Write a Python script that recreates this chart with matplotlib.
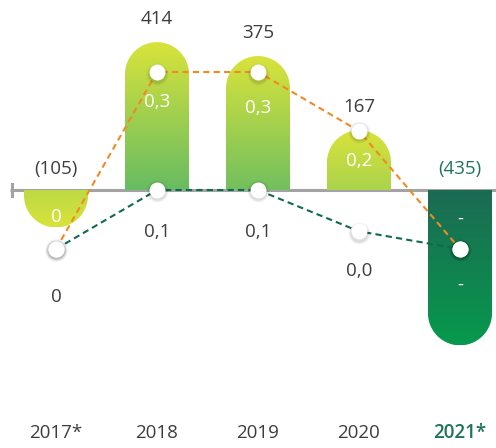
import numpy as np
import matplotlib
matplotlib.use("Agg")
import matplotlib.pyplot as plt
from matplotlib.path import Path
from matplotlib.patches import PathPatch
from matplotlib.colors import to_rgb

plt.rcParams['font.family'] = ['Open Sans', 'DejaVu Sans']

# ---------------- data ----------------
years = ["2017*", "2018", "2019", "2020", "2021*"]
bar_values = [-105, 414, 375, 167, -435]
bar_labels = ["(105)", "414", "375", "167", "(435)"]
orange_values = [0.0, 0.3, 0.3, 0.2, 0.0]
orange_labels = ["0", "0,3", "0,3", "0,2", "-"]
green_values = [0.0, 0.1, 0.1, 0.03, 0.0]
green_labels = ["0", "0,1", "0,1", "0,0", "-"]

# ---------------- layout ----------------
W, H = 496, 448
fig = plt.figure(figsize=(W / 100, H / 100), dpi=100)
ax = fig.add_axes([0, 0, 1, 1])
ax.axis('off')

x0_px, step_px = 56, 101
ax.set_xlim(-x0_px / step_px, (W - x0_px) / step_px)
base_px = 190
k = 2.8  # units per pixel
ax.set_ylim(-(H - base_px) * k, base_px * k)

text_dark = "#3d3d3d"
green_text = "#1e7657"
yellow = np.array(to_rgb("#d9e33b"))
lgreen = np.array(to_rgb("#68bc62"))
dgreen_top = np.array(to_rgb("#1c6a53"))
dgreen_bot = np.array(to_rgb("#07994d"))
FS = 13.5

half_w = 32 / step_px
r_y = 32 * k

xs = np.arange(len(years))

# axis line
ax.plot([-46 / step_px, (W - x0_px) / step_px], [0, 0], color="#a3a3a3", lw=2.2,
        zorder=1, solid_capstyle='butt')
ax.plot([-44 / step_px, -44 / step_px], [-6 * k, 6 * k], color="#a3a3a3", lw=2.2, zorder=1)


def bar_path(xc, v):
    s = 1 if v >= 0 else -1
    theta = np.linspace(np.pi, 0, 60)
    cy = v - s * r_y
    arc = np.column_stack([xc + half_w * np.cos(theta), cy + s * r_y * np.sin(theta)])
    verts = np.vstack([[xc - half_w, 0], [xc - half_w, cy], arc, [xc + half_w, cy],
                       [xc + half_w, 0], [xc - half_w, 0]])
    codes = [Path.MOVETO] + [Path.LINETO] * (len(verts) - 2) + [Path.CLOSEPOLY]
    return Path(verts, codes)


for i, v in enumerate(bar_values):
    xc = xs[i]
    last = i == len(bar_values) - 1
    patch = PathPatch(bar_path(xc, v), facecolor='none', edgecolor='none', zorder=2)
    ax.add_patch(patch)
    n = 200
    ys = np.linspace(min(0, v), max(0, v), n)
    if last:
        t = np.abs(ys) / abs(v)
        cols = dgreen_top[None, :] * (1 - t[:, None]) + dgreen_bot[None, :] * t[:, None]
    else:
        dist_px = np.abs(v - ys) / k
        t = np.clip(dist_px / 147, 0, 1)
        cols = yellow[None, :] * (1 - t[:, None]) + lgreen[None, :] * t[:, None]
    img = ax.imshow(cols[:, None, :], extent=[xc - half_w, xc + half_w, min(0, v), max(0, v)],
                    origin='lower', aspect='auto', zorder=2, interpolation='bilinear')
    img.set_clip_path(patch)

    col = green_text if last else text_dark
    ty = v + 23 * k if v >= 0 else 21 * k
    ax.text(xc, ty, bar_labels[i], ha='center', va='center', fontsize=FS, color=col,
            fontweight='medium' if last else 'normal', zorder=5)
    ax.text(xc, -(433 - base_px) * k, years[i], ha='center', va='center', fontsize=FS,
            color=col, fontweight='semibold' if last else 'normal', zorder=5)

ax.set_xlim(-x0_px / step_px, (W - x0_px) / step_px)
ax.set_ylim(-(H - base_px) * k, base_px * k)

# ---------------- secondary axis for ratios ----------------
ax2 = ax.twinx()
ax2.axis('off')
zero_px = 249
pxu = 590
ax2.set_ylim(-(H - zero_px) / pxu, zero_px / pxu)
ax2.set_xlim(ax.get_xlim())

ax2.plot(xs, orange_values, color="#f08a24", lw=1.5, dashes=(3, 2), zorder=3)
ax2.plot(xs, green_values, color="#0f6b4b", lw=1.5, dashes=(3, 2), zorder=3)

allv = orange_values + green_values
allx = list(xs) + list(xs)
for s, a in [(16, 0.03), (14.5, 0.05), (13, 0.06)]:
    ax2.scatter(allx, np.array(allv) - 1.5 / pxu, s=s ** 2, color="black", alpha=a,
                linewidths=0, zorder=4)
ax2.scatter(allx, allv, s=11.5 ** 2, color="white", linewidths=0, zorder=5)

pt = 0.72
orange_off = [-32, 30, 36, 30, -30]
green_off = [48, 42, 42, 40, 36]
for i in range(len(years)):
    ax2.annotate(orange_labels[i], (xs[i], orange_values[i]), xytext=(0, -orange_off[i] * pt),
                 textcoords='offset points', ha='center', va='center', fontsize=FS,
                 color='white', zorder=6)
    gcol = 'white' if i == len(years) - 1 else text_dark
    ax2.annotate(green_labels[i], (xs[i], green_values[i]), xytext=(0, -green_off[i] * pt),
                 textcoords='offset points', ha='center', va='center', fontsize=FS,
                 color=gcol, zorder=6)

fig.savefig("out.png", dpi=100)
